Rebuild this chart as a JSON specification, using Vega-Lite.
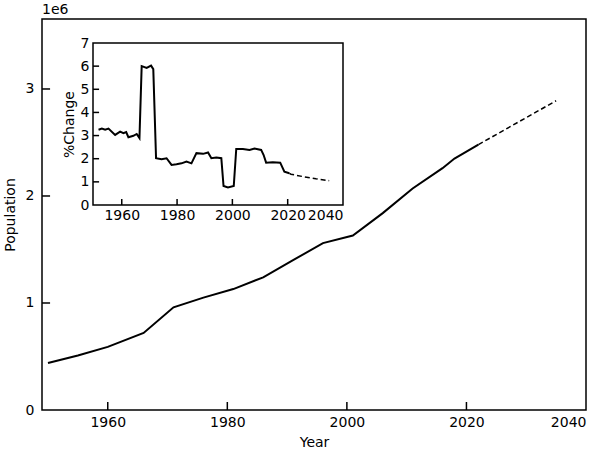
{
"$schema":"https://vega.github.io/schema/vega-lite/v6.json",
"autosize":"none","width":544,"height":391,
"padding":{"left":42,"top":19,"right":19,"bottom":41},
"background":"white",
"config":{"font":"DejaVu Sans","view":{"stroke":"black","strokeWidth":1.5},
"axis":{"labelFont":"DejaVu Sans","titleFont":"DejaVu Sans","labelColor":"black","titleColor":"black","tickColor":"black","domainColor":"black","grid":false,"titleFontWeight":"normal","labelFontSize":14,"titleFontSize":14,"domainWidth":1.5}},
"datasets":{
"main":[{"year":1950,"pop":440000},{"year":1955,"pop":510000},{"year":1960,"pop":590000},{"year":1966,"pop":720000},{"year":1971,"pop":960000},{"year":1976,"pop":1050000},{"year":1981,"pop":1130000},{"year":1986,"pop":1240000},{"year":1991,"pop":1400000},{"year":1996,"pop":1560000},{"year":2001,"pop":1630000},{"year":2006,"pop":1840000},{"year":2011,"pop":2070000},{"year":2016,"pop":2260000},{"year":2018,"pop":2350000},{"year":2022,"pop":2480000}],
"proj":[{"year":2022,"pop":2480000},{"year":2035,"pop":2890000}],
"xt":[{"t":1960},{"t":1980},{"t":2000},{"t":2020}],
"yt":[{"t":1000000},{"t":2000000},{"t":3000000}],
"iyt":[{"t":1},{"t":2},{"t":3},{"t":4},{"t":5},{"t":6}],
"chg":[{"year":1951.6,"v":3.25},{"year":1952.8,"v":3.3},{"year":1954,"v":3.25},{"year":1955.2,"v":3.3},{"year":1957.6,"v":3.03},{"year":1959.4,"v":3.17},{"year":1960.6,"v":3.1},{"year":1961.6,"v":3.15},{"year":1962.4,"v":2.93},{"year":1964.2,"v":2.99},{"year":1965.4,"v":3.07},{"year":1966.4,"v":2.89},{"year":1967.2,"v":6.0},{"year":1969,"v":5.92},{"year":1970.6,"v":6.02},{"year":1971.4,"v":5.87},{"year":1972.4,"v":2.02},{"year":1974.4,"v":1.98},{"year":1976.2,"v":2.02},{"year":1978,"v":1.73},{"year":1979.8,"v":1.76},{"year":1981.6,"v":1.8},{"year":1983.4,"v":1.88},{"year":1985.2,"v":1.8},{"year":1987,"v":2.24},{"year":1989.4,"v":2.21},{"year":1991.2,"v":2.27},{"year":1992.4,"v":2.02},{"year":1994.2,"v":2.05},{"year":1996,"v":2.02},{"year":1996.8,"v":0.82},{"year":1998.4,"v":0.76},{"year":2000.5,"v":0.82},{"year":2001.4,"v":2.42},{"year":2003.8,"v":2.42},{"year":2006.2,"v":2.38},{"year":2008,"v":2.44},{"year":2010.4,"v":2.38},{"year":2011.3,"v":2.16},{"year":2012.2,"v":1.83},{"year":2014.6,"v":1.85},{"year":2017.3,"v":1.83},{"year":2018.8,"v":1.44},{"year":2020.6,"v":1.37}],
"chgp":[{"year":2020.6,"v":1.37},{"year":2021.2,"v":1.33},{"year":2025.4,"v":1.23},{"year":2030.2,"v":1.13},{"year":2035,"v":1.05}]
},
"layer":[
{"layer":[
{"data":{"name":"main"},"mark":{"type":"line","color":"black","strokeWidth":2},
"encoding":{"x":{"field":"year","type":"quantitative","scale":{"domain":[1949,2040],"nice":false,"zero":false},"axis":{"title":"Year","values":[1960,1980,2000,2020,2040],"format":"d","ticks":false,"labelPadding":5,"domain":false,"titlePadding":6}},
"y":{"field":"pop","type":"quantitative","scale":{"domain":[0,3654000],"nice":false},"axis":{"title":"Population","values":[0,1000000,2000000,3000000],"labelExpr":"datum.value/1000000","ticks":false,"labelPadding":8,"domain":false,"titlePadding":8}}}},
{"data":{"name":"proj"},"mark":{"type":"line","color":"black","strokeWidth":1.5,"strokeDash":[5,3]},
"encoding":{"x":{"field":"year","type":"quantitative"},"y":{"field":"pop","type":"quantitative"}}},
{"data":{"name":"xt"},"mark":{"type":"rule","color":"black","strokeWidth":1.5},
"encoding":{"x":{"field":"t","type":"quantitative"},"y":{"datum":0},"y2":{"datum":75000}}},
{"data":{"name":"yt"},"mark":{"type":"rule","color":"black","strokeWidth":1.5},
"encoding":{"y":{"field":"t","type":"quantitative"},"x":{"datum":1949},"x2":{"datum":1950.35}}},
{"data":{"values":[{"t":"1e6"}]},"mark":{"type":"text","align":"left","baseline":"bottom","dy":-2,"fontSize":14,"font":"DejaVu Sans","color":"black"},
"encoding":{"x":{"datum":1949},"y":{"datum":3654000},"text":{"field":"t"}}}
]},
{"layer":[
{"data":{"values":[{}]},"mark":{"type":"rect","fill":"white","stroke":"black","strokeWidth":1.5},
"encoding":{"x":{"datum":1949.6,"type":"quantitative","scale":{"domain":[1949.6,2040],"range":[51,301],"nice":false,"zero":false},"axis":{"orient":"bottom","offset":-205,"title":null,"values":[1960,1980,2000,2020,2040],"format":"d","ticks":false,"labelPadding":3,"domain":false}},"x2":{"datum":2040},
"y":{"datum":0,"type":"quantitative","scale":{"domain":[0,7],"range":[186,24],"nice":false},"axis":{"orient":"left","offset":-51,"title":"%Change","format":"d","values":[0,1,2,3,4,5,6,7],"ticks":false,"labelPadding":4,"domain":false,"titlePadding":4}},"y2":{"datum":7}}},
{"data":{"name":"chg"},"mark":{"type":"line","color":"black","strokeWidth":2},
"encoding":{"x":{"field":"year","type":"quantitative"},"y":{"field":"v","type":"quantitative"}}},
{"data":{"name":"chgp"},"mark":{"type":"line","color":"black","strokeWidth":1.5,"strokeDash":[5,3]},
"encoding":{"x":{"field":"year","type":"quantitative"},"y":{"field":"v","type":"quantitative"}}},
{"data":{"name":"xt"},"mark":{"type":"rule","color":"black","strokeWidth":1.5},
"encoding":{"x":{"field":"t","type":"quantitative"},"y":{"datum":0},"y2":{"datum":0.26}}},
{"data":{"name":"iyt"},"mark":{"type":"rule","color":"black","strokeWidth":1.5},
"encoding":{"y":{"field":"t","type":"quantitative"},"x":{"datum":1949.6},"x2":{"datum":1951.8}}}
]}
],
"resolve":{"scale":{"x":"independent","y":"independent"},"axis":{"x":"independent","y":"independent"}}
}
